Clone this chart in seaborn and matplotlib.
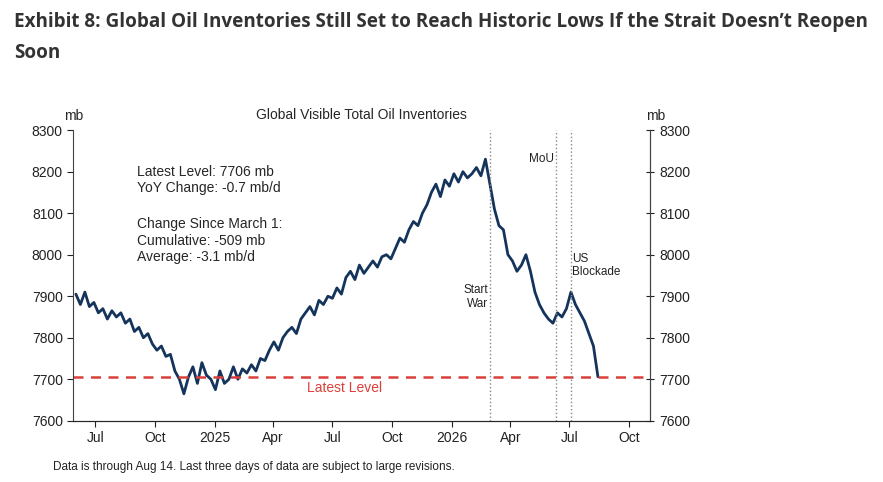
import pandas as pd
import numpy as np
import matplotlib
matplotlib.use('Agg')
import matplotlib.pyplot as plt
import matplotlib.dates as mdates
import seaborn as sns

# weekly readings, Jun 2024 -> Aug 14 2026 (mb)
inventarios = [
    7905, 7880, 7910, 7875,
    7885, 7860, 7870, 7845, 7865,
    7850, 7860, 7835, 7845,
    7815, 7825, 7800, 7810,
    7785, 7770, 7780, 7755, 7760,
    7720, 7700, 7665, 7705,
    7730, 7690, 7740, 7710, 7700,
    7675, 7720, 7690, 7700,
    7730, 7700, 7725, 7715,
    7735, 7720, 7750, 7745, 7770,
    7790, 7770, 7800, 7815,
    7825, 7810, 7845, 7860,
    7875, 7855, 7890, 7880, 7900,
    7895, 7920, 7905, 7945,
    7960, 7940, 7975, 7955, 7970,
    7985, 7970, 7995, 8000,
    7990, 8015, 8040, 8030,
    8060, 8080, 8070, 8100, 8120,
    8150, 8170, 8140, 8180,
    8165, 8195, 8175, 8200, 8185,
    8195, 8210, 8190, 8230,
    8170, 8110, 8070, 8060,
    8000, 7985, 7960, 7975,
    8000, 7960, 7910, 7880, 7860,
    7845, 7835, 7860, 7850,
    7870, 7910, 7880, 7860, 7840,
    7810, 7780, 7706,
]
datas = pd.date_range('2024-06-01', '2026-08-14', periods=len(inventarios))
dados = pd.DataFrame({'data': datas, 'mb': inventarios})

nivel_atual = 7706
eventos = [('2026-02-28', 'Start\nWar', 7930, 'right'),
           ('2026-06-10', 'MoU', 8245, 'right'),
           ('2026-07-03', 'US\nBlockade', 8005, 'left')]

sns.set_style('white')
plt.rcParams['font.family'] = ['Liberation Sans', 'DejaVu Sans']

fig = plt.figure(figsize=(8.83, 4.82), dpi=100)
ax = fig.add_axes([0.083, 0.127, 0.653, 0.603])
sns.lineplot(data=dados, x='data', y='mb', ax=ax, color='#14345c', lw=2)
ax.axhline(nivel_atual, color='#d9403a', ls=(0, (4, 3)), lw=1.8)
ax.text(pd.Timestamp('2025-07-20'), 7697, 'Latest Level', color='#d9403a',
        fontsize=10, ha='center', va='top')

for d, lab, y, ha in eventos:
    ax.axvline(pd.Timestamp(d), color='#888888', ls=':', lw=1)
    off = pd.Timedelta(days=-2 if ha == 'right' else 2)
    ax.text(pd.Timestamp(d) + off, y, lab, fontsize=8.5, ha=ha, va='top', color='#222')

ax.set_xlim(pd.Timestamp('2024-05-28'), pd.Timestamp('2026-11-02'))
ax.set_ylim(7600, 8300)
ax.set_yticks(range(7600, 8301, 100))
ax.xaxis.set_major_locator(mdates.MonthLocator(bymonth=[1, 4, 7, 10]))
ax.set_xticks(ax.get_xticks())
ax.set_xticklabels([mdates.num2date(t).strftime('%Y') if mdates.num2date(t).month == 1
                    else mdates.num2date(t).strftime('%b') for t in ax.get_xticks()])
ax.set_xlabel('')
ax.set_ylabel('')
for s in ax.spines.values():
    s.set_color('#444')
    s.set_linewidth(0.8)
ax.spines['top'].set_visible(False)
ax.tick_params(labelsize=10, colors='#222', direction='out', length=4, left=True, bottom=True)

ax2 = ax.twinx()
ax2.set_ylim(7600, 8300)
ax2.set_yticks(range(7600, 8301, 100))
ax2.spines['top'].set_visible(False)
ax2.spines['left'].set_visible(False)
ax2.spines['right'].set_color('#444')
ax2.tick_params(labelsize=10, colors='#222', direction='inout', length=6)

ax.set_title('Global Visible Total Oil Inventories', fontsize=10, pad=8)
fig.text(0.083, 0.752, 'mb', fontsize=10, ha='center')
fig.text(0.742, 0.752, 'mb', fontsize=10, ha='center')

ax.text(0.11, 0.88, 'Latest Level: 7706 mb\nYoY Change: -0.7 mb/d', transform=ax.transAxes,
        fontsize=10, va='top', linespacing=1.2)
ax.text(0.11, 0.70, 'Change Since March 1:\nCumulative: -509 mb\nAverage: -3.1 mb/d',
        transform=ax.transAxes, fontsize=10, va='top', linespacing=1.2)

fig.text(0.06, 0.025, 'Data is through Aug 14. Last three days of data are subject to large revisions.',
         fontsize=8.5, color='#222')
fig.text(0.016, 0.955, 'Exhibit 8: Global Oil Inventories Still Set to Reach Historic Lows If the Strait Doesn\u2019t Reopen',
         fontsize=13.6, fontweight='bold', family=['Open Sans', 'DejaVu Sans'], color='#333', va='center')
fig.text(0.016, 0.89, 'Soon', fontsize=13.6, fontweight='bold', family=['Open Sans', 'DejaVu Sans'],
         color='#333', va='center')

fig.savefig('out.png', dpi=100)
